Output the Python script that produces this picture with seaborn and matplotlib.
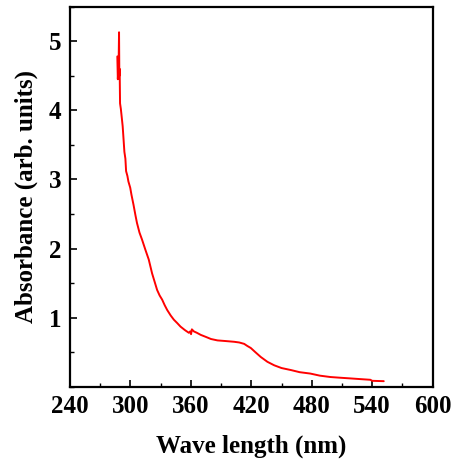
import pandas as pd
import matplotlib
matplotlib.use('Agg')
import matplotlib.pyplot as plt
from matplotlib.ticker import MultipleLocator
import seaborn as sns

# Absorption spectrum
wavelength = [287.0, 287.5, 288.3, 288.7, 289.0, 289.3, 289.7, 290.5, 291.3, 292.3,
              293.0, 294.0, 295.0, 295.7, 297.0, 298.0, 299.8, 301.0, 303.1, 305.0,
              306.5, 309.0, 311.5, 314.9, 318.2, 321.5, 324.0, 326.5, 329.0, 331.5,
              334.0, 336.5, 340.0, 343.1, 346.5, 349.7, 354.0, 358.0, 359.3, 360.2,
              361.0, 363.0, 366.0, 369.8, 375.0, 380.0, 386.4, 395.0, 403.0, 408.0,
              412.9, 416.0, 419.5, 424.0, 429.4, 436.0, 442.7, 450.0, 459.6, 468.0,
              478.6, 488.0, 498.5, 508.0, 518.3, 528.0, 538.2, 540.0, 551.5]
absorbance = [4.78, 4.45, 4.70, 5.13, 4.50, 4.60, 4.10, 4.02, 3.91, 3.77,
              3.62, 3.40, 3.30, 3.12, 3.05, 2.97, 2.88, 2.78, 2.63, 2.48,
              2.37, 2.23, 2.13, 1.98, 1.84, 1.64, 1.52, 1.40, 1.32, 1.26,
              1.18, 1.11, 1.03, 0.97, 0.92, 0.87, 0.82, 0.78, 0.80, 0.76,
              0.83, 0.80, 0.78, 0.75, 0.72, 0.69, 0.67, 0.66, 0.65, 0.64,
              0.62, 0.59, 0.56, 0.50, 0.43, 0.36, 0.31, 0.27, 0.24, 0.21,
              0.19, 0.16, 0.14, 0.13, 0.12, 0.11, 0.10, 0.085, 0.08]

x_ticks = [240, 300, 360, 420, 480, 540, 600]
x_labels = ['240', '300', '360', '420', '480', '540', '600']
y_ticks = [1, 2, 3, 4, 5]
y_labels = ['1', '2', '3', '4', '5']

df = pd.DataFrame({'wavelength': wavelength, 'absorbance': absorbance})

sns.set_theme(style='ticks')
plt.rcParams['font.family'] = ['Liberation Serif', 'DejaVu Serif']
plt.rcParams['font.weight'] = 'bold'
plt.rcParams['text.color'] = 'black'
plt.rcParams['axes.labelcolor'] = 'black'
plt.rcParams['xtick.color'] = 'black'
plt.rcParams['ytick.color'] = 'black'

fig = plt.figure(figsize=(4.53, 4.62), dpi=100)
ax = fig.add_axes([0.1545, 0.163, 0.8005, 0.8225])

sns.lineplot(data=df, x='wavelength', y='absorbance', color='red',
             linewidth=1.4, sort=False, estimator=None, ax=ax)

ax.set_xlim(240, 600)
ax.set_ylim(0, 5.5)
ax.set_xticks(x_ticks)
ax.set_xticklabels(x_labels, fontsize=18, fontweight='bold')
ax.set_yticks(y_ticks)
ax.set_yticklabels(y_labels, fontsize=18, fontweight='bold')
ax.xaxis.set_minor_locator(MultipleLocator(30))
ax.yaxis.set_minor_locator(MultipleLocator(0.5))
ax.tick_params(which='major', direction='in', length=5, width=1.2, pad=6, colors='black')
ax.tick_params(which='minor', direction='in', length=3, width=1.0, colors='black')
for sp in ax.spines.values():
    sp.set_linewidth(1.6)
    sp.set_color('black')

ax.set_xlabel('Wave length (nm)', fontsize=18, fontweight='bold', labelpad=12, color='black')
ax.set_ylabel('Absorbance (arb. units)', fontsize=18, fontweight='bold', labelpad=8, color='black')

fig.savefig('out.png', dpi=100, facecolor='white')
